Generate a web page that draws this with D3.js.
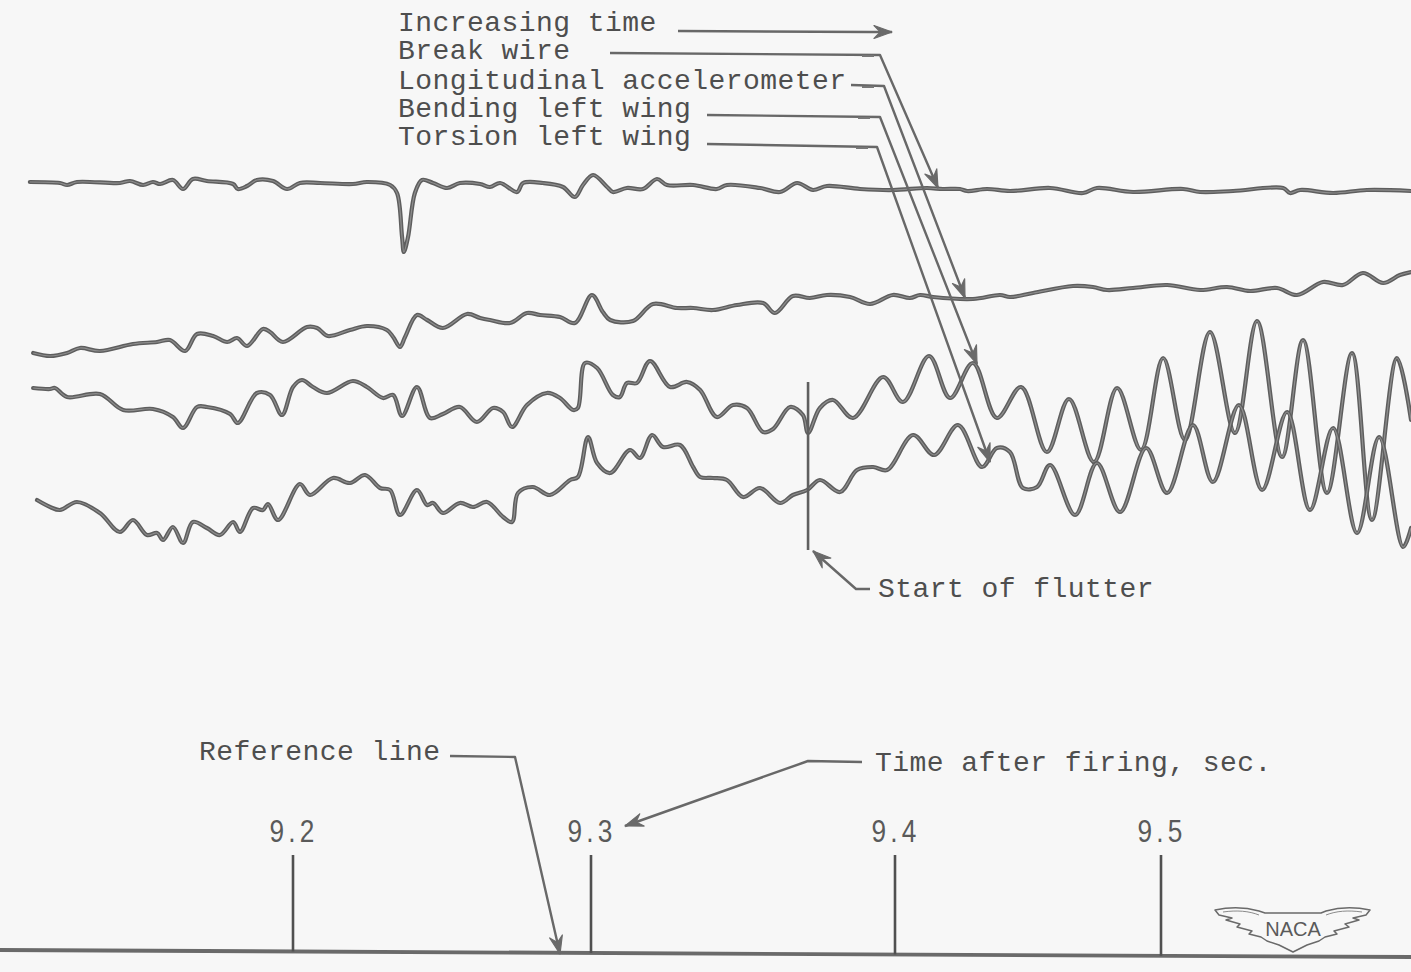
<!DOCTYPE html>
<html>
<head>
<meta charset="utf-8">
<script src="https://cdn.jsdelivr.net/npm/d3@7"></script>
<style>
  html, body { margin: 0; padding: 0; background: #f7f7f7; }
  svg { display: block; }
</style>
</head>
<body>
<svg id="chart" width="1411" height="972"></svg>
<script>
// Oscillograph record of the flutter run: time after firing in ms, trace deflection in record units.
const timingMarks = [9200, 9300, 9400, 9500];
const timingLabels = ["9.2", "9.3", "9.4", "9.5"];
const flutterStart = 9371.4;

const traceNames = ["Break wire", "Longitudinal accelerometer", "Bending left wing", "Torsion left wing"];

const breakWire = [
  [9111.7,1],[9121.8,0],[9124.2,-2],[9127.5,1],[9141.9,0],[9145.3,2],[9149.7,-2],[9153.0,1],[9155.4,-1],
  [9159.7,3],[9163.1,-6],[9166.4,4],[9171.1,2],[9179.9,-1],[9181.5,-6],[9184.6,-3],[9187.9,3],[9193.3,2],
  [9198.0,-6],[9202.3,0],[9209.1,0],[9220.1,-1],[9224.8,1],[9232.6,-2],[9234.9,-10],[9236.6,-54],[9237.2,-69],
  [9238.6,-54],[9240.9,-10],[9243.3,3],[9247.0,0],[9251.7,-5],[9256.0,0],[9262.8,-1],[9266.1,-4],[9269.5,0],
  [9275.2,-9],[9277.2,0],[9283.9,0],[9290.6,-4],[9294.6,-14],[9297.3,-2],[9300.7,8],[9305.3,-4],[9307.2,-9],
  [9311.8,-5],[9317.1,-6],[9321.7,4],[9325.0,-2],[9333.6,-2],[9341.4,-6],[9344.7,-2],[9355.6,-5],[9362.2,-9],
  [9367.8,0],[9373.0,-7],[9377.6,-3],[9388.5,-6],[9399.3,-7],[9412.0,-5],[9418.0,-6],[9424.4,-6],[9427.1,-8],
  [9434.6,-6],[9443.2,-8],[9458.3,-5],[9470.7,-10],[9475.9,-5],[9489.5,-9],[9508.3,-6],[9514.7,-9],[9527.1,-8],
  [9545.9,-5],[9548.5,-10],[9552.3,-7],[9564.7,-10],[9577.4,-7],[9594.0,-8]
];

const longitudinalAccel = [
  [9112.8,-13],[9118.5,-16],[9124.2,-13],[9128.5,-8],[9135.2,-11],[9146.3,-4],[9154.4,-2],[9158.7,0],[9163.8,-11],
  [9167.8,6],[9173.2,4],[9177.9,-2],[9181.2,2],[9184.6,-6],[9189.9,11],[9192.3,8],[9196.6,-2],[9204.7,13],
  [9208.1,12],[9211.7,4],[9219.1,10],[9224.8,14],[9231.5,10],[9233.6,3],[9235.9,-7],[9237.6,3],[9241.6,25],
  [9245.0,20],[9250.3,12],[9258.4,26],[9262.8,22],[9266.1,20],[9272.8,17],[9278.5,27],[9282.9,25],[9289.6,23],
  [9294.6,17],[9300.3,45],[9303.9,28],[9306.3,20],[9313.8,19],[9320.4,36],[9328.3,32],[9333.6,32],[9340.1,30],
  [9348.0,35],[9356.6,37],[9360.5,27],[9366.4,44],[9372.0,42],[9377.6,45],[9385.2,43],[9391.8,36],[9399.3,45],
  [9405.6,42],[9409.4,45],[9414.3,43],[9429.3,41],[9439.5,45],[9443.2,43],[9451.9,47],[9466.9,54],[9474.4,53],
  [9479.7,50],[9489.5,52],[9502.3,55],[9514.7,50],[9524.8,53],[9533.5,49],[9543.6,52],[9551.1,45],[9560.9,58],
  [9568.4,55],[9575.9,67],[9583.5,57],[9589.8,65],[9594.0,68]
];

const bendingLeftWing = [
  [9112.8,12],[9118.5,11],[9120.1,12],[9124.2,3],[9135.2,6],[9143.0,-10],[9153.0,-9],[9159.7,-17],[9163.1,-28],
  [9167.8,-7],[9171.1,-7],[9178.9,-14],[9181.5,-23],[9187.9,7],[9192.3,5],[9196.3,-15],[9200.0,13],[9203.0,20],
  [9206.7,13],[9211.4,7],[9220.1,19],[9224.8,13],[9230.2,2],[9233.6,5],[9236.6,-16],[9241.6,13],[9246.0,-18],
  [9250.3,-14],[9256.0,-7],[9261.7,-22],[9267.1,-8],[9270.5,-12],[9273.5,-27],[9278.5,-5],[9285.2,7],[9289.6,2],
  [9294.0,-10],[9295.6,-8],[9298.0,37],[9302.0,32],[9307.2,5],[9309.5,3],[9311.8,17],[9315.1,17],[9319.4,39],
  [9326.0,13],[9331.6,18],[9335.9,10],[9341.4,-17],[9346.7,-5],[9351.3,-8],[9356.6,-32],[9359.9,-29],[9365.5,-7],
  [9369.7,-15],[9371.4,-33],[9375.3,-8],[9379.6,0],[9386.2,-18],[9396.1,23],[9403.0,-2],[9412.8,44],[9420.7,2],
  [9429.3,37],[9438.3,-18],[9447.4,13],[9457.1,-52],[9465.4,1],[9474.8,-62],[9483.5,12],[9492.5,-50],[9500.8,42],
  [9509.0,-40],[9518.4,68],[9527.8,-33],[9536.1,79],[9545.5,-57],[9553.4,60],[9562.4,-93],[9571.8,47],[9579.3,-120],
  [9588.7,42],[9594.0,-20]
];

const torsionLeftWing = [
  [9114.1,-10],[9118.5,-17],[9121.8,-20],[9127.5,-12],[9135.2,-23],[9141.9,-42],[9146.3,-30],[9151.0,-45],[9154.4,-43],
  [9156.4,-50],[9159.7,-37],[9163.1,-53],[9166.4,-32],[9171.1,-38],[9175.5,-45],[9179.9,-32],[9182.2,-42],[9186.6,-18],
  [9189.9,-20],[9191.6,-14],[9195.0,-30],[9202.3,6],[9205.7,-5],[9213.4,12],[9219.1,7],[9224.2,15],[9229.2,2],
  [9232.6,0],[9235.9,-25],[9241.6,0],[9245.0,-15],[9247.0,-13],[9250.3,-23],[9256.0,-13],[9260.4,-17],[9265.1,-12],
  [9270.5,-27],[9273.5,-32],[9275.5,-3],[9280.5,3],[9286.2,-5],[9293.0,10],[9295.6,13],[9299.0,53],[9302.0,27],
  [9306.3,17],[9312.8,40],[9316.1,32],[9320.1,55],[9323.7,43],[9329.3,45],[9333.6,23],[9335.9,13],[9340.1,12],
  [9344.7,10],[9350.0,-7],[9355.6,2],[9362.2,-13],[9366.4,-5],[9371.1,0],[9375.3,10],[9381.9,-2],[9387.5,20],
  [9392.8,23],[9397.4,20],[9406.8,55],[9414.7,35],[9423.7,65],[9432.7,23],[9438.3,42],[9443.2,38],[9448.1,2],
  [9453.4,3],[9458.3,25],[9467.7,-25],[9475.9,27],[9484.6,-22],[9494.4,42],[9502.3,-3],[9512.0,65],[9519.5,8],
  [9529.3,85],[9538.0,0],[9547.4,78],[9556.0,-20],[9564.7,62],[9573.7,-43],[9582.0,53],[9591.0,-57],[9594.0,-38]
];

const traces = [breakWire, longitudinalAccel, bendingLeftWing, torsionLeftWing];

// ---- layout ----
const W = 1411, H = 972;
const traceZero = [183, 340, 400, 490];
const textInk = "#4e4e4e";
const mono = "'Liberation Mono', 'Courier New', monospace";

const svg = d3.select("#chart");
svg.append("rect").attr("width", W).attr("height", H).attr("fill", "#f7f7f7");

// Film speed is not constant, so time maps piecewise between the timing marks.
const x = d3.scaleLinear().domain(timingMarks).range([293, 591, 895, 1161]);

const yScales = traceZero.map(z => d3.scaleLinear().domain([-100, 100]).range([z + 100, z - 100]));

const gTraces = svg.append("g");
traces.forEach((data, i) => {
  const line = d3.line()
    .x(d => x(d[0]))
    .y(d => yScales[i](d[1]))
    .curve(d3.curveCatmullRom.alpha(0.5));
  gTraces.append("path").datum(data)
    .attr("d", line).attr("fill", "none")
    .attr("stroke", "#5e5e5e").attr("stroke-width", 4.2)
    .attr("stroke-linejoin", "round").attr("stroke-linecap", "round");
  gTraces.append("path").datum(data)
    .attr("d", line).attr("fill", "none")
    .attr("stroke", "#8e8e8e").attr("stroke-width", 1.2)
    .attr("stroke-linejoin", "round");
});

// ---- arrow helpers ----
function arrowHead(g, tip, from, len = 18, half = 6.5) {
  const dx = tip[0] - from[0], dy = tip[1] - from[1];
  const L = Math.hypot(dx, dy);
  const ux = dx / L, uy = dy / L, nx = -uy, ny = ux;
  const bx = tip[0] - ux * len, by = tip[1] - uy * len;
  const mx = tip[0] - ux * len * 0.65, my = tip[1] - uy * len * 0.65;
  g.append("path")
    .attr("d", `M${tip[0]},${tip[1]} L${bx + nx * half},${by + ny * half} L${mx},${my} L${bx - nx * half},${by - ny * half} Z`)
    .attr("fill", "#6a6a6a").attr("stroke", "#6a6a6a").attr("stroke-width", 1.2).attr("stroke-linejoin", "round");
}
function leader(g, pts, width = 2.4) {
  g.append("path")
    .attr("d", d3.line()(pts))
    .attr("fill", "none").attr("stroke", "#686868").attr("stroke-width", width)
    .attr("stroke-linejoin", "round");
  arrowHead(g, pts[pts.length - 1], pts[pts.length - 2]);
}
function label(g, txt, tx, ty) {
  g.append("text").attr("x", tx).attr("y", ty).text(txt)
    .attr("font-family", mono).attr("font-size", 28).attr("letter-spacing", 0.45)
    .attr("fill", textInk);
}

// ---- legend with leaders to each trace ----
const gLegend = svg.append("g");
const legendTexts = ["Increasing time"].concat(traceNames);
const legendBase = [31, 59, 89, 117, 145];
legendTexts.forEach((t, i) => label(gLegend, t, 398, legendBase[i]));

leader(gLegend, [[678, 31], [870, 32], [892, 32]]);
leader(gLegend, [[610, 53], [880, 55], [938, 188]]);
leader(gLegend, [[851, 85], [884, 86], [965, 298]]);
leader(gLegend, [[707, 115], [880, 117], [977, 364]]);
leader(gLegend, [[707, 144], [877, 147], [990, 462]]);
// small splice marks where the leaders turn
[[862, 55], [862, 86], [858, 117], [856, 147]].forEach(p => {
  gLegend.append("line").attr("x1", p[0]).attr("x2", p[0] + 12).attr("y1", p[1] + 1).attr("y2", p[1] + 1)
    .attr("stroke", "#777").attr("stroke-width", 2);
});

// ---- start of flutter marker ----
const gFlutter = svg.append("g");
gFlutter.append("line")
  .attr("x1", x(flutterStart)).attr("x2", x(flutterStart))
  .attr("y1", 382).attr("y2", 550)
  .attr("stroke", "#5f5f5f").attr("stroke-width", 2.6);
leader(gFlutter, [[870, 589], [856, 589], [813, 551]]);
label(gFlutter, "Start of flutter", 878, 597);

// ---- timing marks and reference line ----
const gTime = svg.append("g");
const refY = xx => 950 + (xx / W) * 7;
gTime.append("line").attr("x1", 0).attr("y1", refY(0)).attr("x2", W).attr("y2", refY(W))
  .attr("stroke", "#6a6a6a").attr("stroke-width", 3.8);

timingMarks.forEach((t, i) => {
  const px = x(t);
  gTime.append("line").attr("x1", px).attr("x2", px)
    .attr("y1", 855).attr("y2", refY(px))
    .attr("stroke", "#505050").attr("stroke-width", 2.6);
  gTime.append("text")
    .attr("transform", `translate(${px + 1},842) scale(0.82,1)`)
    .attr("text-anchor", "middle")
    .attr("font-family", "'Liberation Sans', Arial, sans-serif")
    .attr("font-size", 32).attr("letter-spacing", 5)
    .attr("fill", "#5a5a5a").text(timingLabels[i]);
});

label(gTime, "Reference line", 199, 760);
leader(gTime, [[450, 756], [515, 757], [560, 954]]);
label(gTime, "Time after firing, sec.", 875, 771);
leader(gTime, [[862, 762], [808, 761], [625, 826]]);

// ---- NACA emblem ----
const gLogo = svg.append("g").attr("transform", "translate(1215,906)");
gLogo.append("path")
  .attr("d", "M0,4 C14,1 30,1 44,5 L50,7 L106,7 L111,5 C125,1 141,1 155,4 L151,9 L138,12 L144,14 L130,18 L134,21 L119,25 L122,28 L110,31 L104,35 L92,39 L78,46 L64,39 L52,35 L46,31 L34,28 L37,25 L22,21 L25,18 L11,14 L17,12 L4,9 Z")
  .attr("fill", "none").attr("stroke", "#6a6a6a").attr("stroke-width", 1.5).attr("stroke-linejoin", "round");
gLogo.append("path")
  .attr("d", "M8,6 C22,4 34,5 44,9 M147,6 C133,4 121,5 111,9")
  .attr("fill", "none").attr("stroke", "#8a8a8a").attr("stroke-width", 1);
gLogo.append("text").attr("x", 78).attr("y", 30).attr("text-anchor", "middle")
  .attr("font-family", "'Liberation Sans', Arial, sans-serif").attr("font-size", 20)
  .attr("fill", "#5a5a5a").text("NACA");
</script>
</body>
</html>
